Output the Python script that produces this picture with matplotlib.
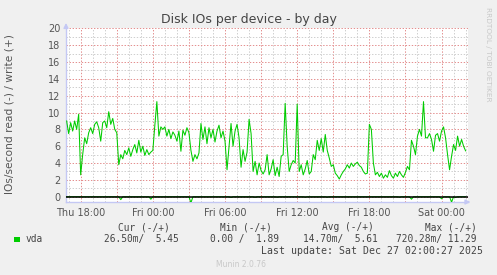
import numpy as np
import matplotlib.pyplot as plt

plt.rcParams['lines.scale_dashes'] = False

# write IOs/s, 10 minute samples from Thu 16:50 (one row per hour)
write_iops = [
    9.0, 7.5, 8.8, 7.8, 9.0, 8.0,
    9.8, 2.6, 5.0, 7.0, 6.3, 7.6,
    8.2, 7.5, 8.6, 8.9, 8.2, 6.6,
    8.8, 9.0, 8.2, 10.1, 8.6, 9.3,
    8.0, 7.6, 3.8, 5.0, 4.5, 5.5,
    5.0, 5.8, 4.8, 5.6, 6.2, 5.2,
    6.7, 5.3, 6.0, 4.9, 5.6, 5.0,
    5.3, 5.5, 8.5, 11.3, 7.2, 8.3,
    8.0, 8.3, 7.2, 8.0, 6.9, 7.7,
    7.3, 6.6, 7.8, 5.4, 7.9, 7.3,
    8.2, 7.6, 5.5, 4.2, 5.0, 4.5,
    5.2, 8.7, 6.8, 8.3, 6.3, 8.2,
    7.0, 8.0, 6.5, 7.8, 8.5, 7.0,
    7.8, 6.6, 3.2, 6.0, 8.7, 6.0,
    7.8, 8.6, 7.0, 3.5, 5.6, 4.2,
    5.3, 9.2, 7.5, 3.0, 4.2, 2.6,
    4.0, 3.1, 2.7, 3.2, 5.0, 2.6,
    3.3, 4.4, 2.5, 3.5, 2.4, 4.8,
    5.0, 11.1, 6.0, 3.0, 3.8, 4.3,
    4.0, 11.0, 3.0, 3.8, 2.6, 3.3,
    4.3, 2.7, 3.0, 5.0, 4.4, 6.7,
    5.5, 6.9, 5.3, 7.4, 5.5, 4.6,
    3.6, 3.8, 2.8, 2.5, 2.1, 2.6,
    3.0, 3.3, 3.8, 3.4, 4.0, 3.6,
    3.9, 4.1, 3.7, 3.5, 3.0, 2.7,
    2.8, 8.6, 8.0, 4.0, 2.6, 2.9,
    2.4, 2.8, 2.2, 2.6, 2.3, 3.1,
    2.5, 2.2, 2.8, 2.4, 3.0, 2.6,
    2.3, 2.9, 3.6, 3.2, 6.7, 6.0,
    5.0, 7.2, 8.0, 7.2, 11.3, 7.0,
    7.0, 7.5, 6.8, 5.4, 7.3, 7.5,
    6.6, 7.8, 8.3, 7.0, 5.0, 3.2,
    4.8, 6.2, 5.5, 7.2, 6.0, 6.8,
    6.0, 5.45,
]

# read IOs/s (drawn below zero), same samples, one row per 2 hours
read_iops = [
    0, 0, 0, 0, 0, 0, 0, 0, 0, 0, 0, 0,
    0, 0, 0, 0, 0, 0, 0, 0, 0, 0, 0, 0,
    0, 0, 0, 0.35, 0, 0, 0, 0, 0, 0, 0, 0,
    0, 0, 0, 0, 0, 0, 0.3, 0, 0, 0, 0, 0,
    0, 0, 0, 0, 0, 0, 0, 0, 0, 0, 0, 0,
    0, 0, 0.72, 0, 0, 0, 0, 0, 0, 0, 0, 0,
    0, 0, 0, 0, 0, 0, 0, 0, 0, 0, 0.1, 0,
    0, 0, 0, 0, 0, 0, 0, 0, 0, 0, 0.08, 0,
    0, 0, 0, 0, 0, 0, 0, 0, 0, 0.06, 0, 0,
    0, 0, 0, 0, 0, 0, 0, 0, 0, 0, 0, 0.06,
    0, 0, 0, 0, 0, 0, 0, 0, 0, 0, 0.06, 0,
    0, 0, 0, 0, 0, 0, 0, 0, 0, 0, 0, 0,
    0, 0, 0, 0, 0, 0, 0, 0, 0, 0, 0, 0,
    0, 0, 0, 0, 0, 0, 0, 0, 0, 0, 0.06, 0,
    0, 0, 0, 0, 0.3, 0, 0, 0, 0, 0, 0, 0,
    0, 0, 0, 0, 0, 0, 0, 0.25, 0, 0, 0, 0,
    0.65, 0, 0.1, 0, 0, 0, 0, 0,
]

start_hour = -7 - 10 / 60      # Thu 16:50, hours relative to Fri 00:00
tick_hours = [-6, 0, 6, 12, 18, 24]
tick_labels = ['Thu 18:00', 'Fri 00:00', 'Fri 06:00', 'Fri 12:00', 'Fri 18:00', 'Sat 00:00']

legend_cols = ['Cur (-/+)', 'Min (-/+)', 'Avg (-/+)', 'Max (-/+)']
legend_vals = ['26.50m/  5.45', '0.00 /  1.89', '14.70m/  5.61', '720.28m/ 11.29']

W, H = 497, 275
GREEN = '#00cc00'
AXIS = '#c4c8f4'


def px(x, y):
    return x / W, 1 - y / H


fig = plt.figure(figsize=(W / 100, H / 100), dpi=100, facecolor='#f0f0f0')
ax = fig.add_axes([66 / W, 1 - 202 / H, (468 - 66) / W, (202 - 28) / H])
ax.set_facecolor('white')

t = start_hour + np.arange(len(write_iops)) / 6
ax.plot(t, write_iops, color=GREEN, lw=0.75, zorder=3)
ax.plot(t, -np.array(read_iops), color=GREEN, lw=0.75, zorder=3)
ax.axhline(0, color='black', lw=1.1, zorder=4)

ax.set_xlim(-7.22, 26.2)
ax.set_ylim(-0.63, 20.05)

major_x = np.arange(-6, 25, 3)
ax.set_xticks(major_x)
ax.set_xticklabels([tick_labels[tick_hours.index(h)] if h in tick_hours else '' for h in major_x])
ax.set_xticks(np.arange(-7, 27, 1), minor=True)
ax.set_yticks(np.arange(0, 21, 2))
ax.set_yticks(np.arange(0, 21, 1), minor=True)

dots = (0, (1, 1.2))
ax.grid(which='minor', color='#cfcfcf', ls=dots, lw=0.72, zorder=1)
ax.grid(which='major', color='#e49090', ls=dots, lw=0.72, zorder=2)
ax.set_axisbelow(True)

ax.tick_params(which='both', length=0, labelsize=7, labelcolor='#555555')
ax.tick_params(axis='y', pad=4)
ax.tick_params(axis='x', pad=4)

for s in ('top', 'right'):
    ax.spines[s].set_visible(False)
for s in ('left', 'bottom'):
    ax.spines[s].set_color(AXIS)
    ax.spines[s].set_linewidth(1)

ax.annotate('', xy=(0, 1.045), xytext=(0, 0.99), xycoords='axes fraction',
            arrowprops=dict(arrowstyle='-|>', color=AXIS, lw=1, mutation_scale=7))
ax.annotate('', xy=(1.013, 0), xytext=(0.99, 0), xycoords='axes fraction',
            arrowprops=dict(arrowstyle='-|>', color=AXIS, lw=1, mutation_scale=7))

fig.text(*px(248.5, 19), 'Disk IOs per device - by day', ha='center', va='center',
         fontsize=9, color='#444444')
fig.text(*px(10, 114), 'IOs/second read (-) / write (+)', ha='center', va='center',
         rotation=90, fontsize=7.7, color='#555555')
fig.text(*px(488, 54), 'RRDTOOL / TOBI OETIKER', ha='center', va='center',
         rotation=270, fontsize=5.3, color='#c8c8c8')

mono = dict(family='DejaVu Sans Mono', fontsize=6.85, color='#444444', va='center')
fig.patches.append(plt.Rectangle(px(14, 242), 5.5 / W, 5.5 / H, transform=fig.transFigure,
                                 facecolor=GREEN, edgecolor='none'))
fig.text(*px(26, 239), 'vda', ha='left', **mono)
for xr, c in zip([169.5, 272, 373.5, 476.5], legend_cols):
    fig.text(*px(xr, 227.5), c, ha='right', **mono)
for xr, v in zip([179, 278.5, 377.5, 477], legend_vals):
    fig.text(*px(xr, 239.3), v, ha='right', **mono)
mono['fontsize'] = 7.1
fig.text(*px(482.7, 251), 'Last update: Sat Dec 27 02:00:27 2025', ha='right', **mono)
fig.text(*px(241.5, 264.5), 'Munin 2.0.76', ha='center', va='center',
         fontsize=5.5, color='#c8c8c8')

fig.savefig('out.png', dpi=100, facecolor=fig.get_facecolor())
